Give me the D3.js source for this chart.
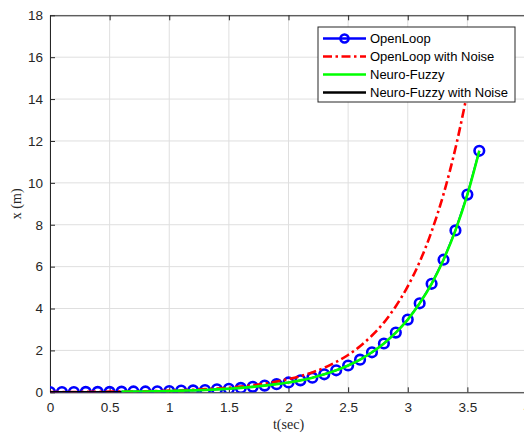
<!DOCTYPE html>
<html>
<head>
<meta charset="utf-8">
<script src="https://cdn.jsdelivr.net/npm/d3@7"></script>
<style>
  body { margin: 0; background: #fff; }
  svg { display: block; }
</style>
</head>
<body>
<div id="chart"></div>
<script>
// time samples (sec)
var tValues = [0, 0.1, 0.2, 0.3, 0.4, 0.5, 0.6, 0.7, 0.8, 0.9, 1.0, 1.1, 1.2, 1.3, 1.4, 1.5, 1.6, 1.7, 1.8, 1.9,
               2.0, 2.1, 2.2, 2.3, 2.4, 2.5, 2.6, 2.7, 2.8, 2.9, 3.0, 3.1, 3.2, 3.3, 3.4, 3.5, 3.6];
// OpenLoop response (m)
var openLoop = [0.01, 0.01, 0.01, 0.02, 0.02, 0.02, 0.03, 0.04, 0.04, 0.05, 0.06, 0.08, 0.09, 0.11, 0.14, 0.17,
                0.21, 0.26, 0.32, 0.39, 0.47, 0.57, 0.70, 0.86, 1.05, 1.28, 1.56, 1.91, 2.33, 2.85, 3.47, 4.25,
                5.18, 6.33, 7.73, 9.44, 11.53];
// OpenLoop with noise (m)
var openLoopNoise = [0.01, 0.01, 0.01, 0.02, 0.02, 0.03, 0.03, 0.04, 0.05, 0.06, 0.08, 0.10, 0.12, 0.15, 0.18, 0.22,
                     0.27, 0.34, 0.41, 0.51, 0.63, 0.77, 0.95, 1.17, 1.45, 1.78, 2.20, 2.71, 3.33, 4.11, 5.06, 6.23,
                     7.68, 9.46, 11.65, 14.30, 17.10];
// Neuro-Fuzzy (starts at t = 0.6)
var nfStart = 6;
var neuroFuzzy = openLoop.slice(nfStart);
// Neuro-Fuzzy with noise, visible only before the controller takes over
var neuroFuzzyNoise = [0.0, 0.0, 0.0, 0.0, 0.0, 0.0, 0.0];

var xTicks = [0, 0.5, 1, 1.5, 2, 2.5, 3, 3.5, 4];
var yTicks = [0, 2, 4, 6, 8, 10, 12, 14, 16, 18];
var legendLabels = ["OpenLoop", "OpenLoop with Noise", "Neuro-Fuzzy", "Neuro-Fuzzy with Noise"];

(function () {
    var width = 524, height = 434;
    var pLeft = 50, pTop = 15.3, pRight = 527, pBottom = 392.3;

    var svg = d3.select("#chart").append("svg")
        .attr("width", width)
        .attr("height", height);

    var x = d3.scaleLinear().domain([0, 4]).range([pLeft, pRight]);
    var y = d3.scaleLinear().domain([0, 18]).range([pBottom, pTop]);

    svg.append("defs").append("clipPath").attr("id", "plotClip")
        .append("rect")
        .attr("x", pLeft).attr("y", pTop)
        .attr("width", pRight - pLeft).attr("height", pBottom - pTop);

    // grid
    var grid = svg.append("g");
    grid.selectAll("line.gx").data(xTicks).enter().append("line")
        .attr("x1", d => x(d)).attr("x2", d => x(d))
        .attr("y1", pTop).attr("y2", pBottom)
        .attr("stroke", "#dfdfdf").attr("stroke-width", 1);
    grid.selectAll("line.gy").data(yTicks).enter().append("line")
        .attr("x1", pLeft).attr("x2", pRight)
        .attr("y1", d => y(d)).attr("y2", d => y(d))
        .attr("stroke", "#dfdfdf").attr("stroke-width", 1);

    // axes (MATLAB style box, ticks inward)
    var axisColor = "#262626";
    var xAxis = svg.append("g").attr("transform", `translate(0,${pBottom})`)
        .call(d3.axisBottom(x).tickValues(xTicks).tickSizeInner(-5).tickSizeOuter(0).tickPadding(10)
            .tickFormat(d3.format("")));
    var xAxisTop = svg.append("g").attr("transform", `translate(0,${pTop})`)
        .call(d3.axisTop(x).tickValues(xTicks).tickSizeInner(-5).tickSizeOuter(0).tickFormat(""));
    var yAxis = svg.append("g").attr("transform", `translate(${pLeft},0)`)
        .call(d3.axisLeft(y).tickValues(yTicks).tickSizeInner(-5).tickSizeOuter(0).tickPadding(7));

    [xAxis, xAxisTop, yAxis].forEach(function (g) {
        g.select(".domain").attr("stroke", axisColor).attr("stroke-width", 1);
        g.selectAll(".tick line").attr("stroke", axisColor);
        g.selectAll("text")
            .attr("fill", axisColor)
            .style("font-family", "Liberation Sans, Arial, sans-serif")
            .style("font-size", "13.5px");
    });

    // series
    var plot = svg.append("g").attr("clip-path", "url(#plotClip)");
    var line = d3.line().x(d => x(d[0])).y(d => y(d[1]));
    var smooth = d3.line().curve(d3.curveMonotoneX).x(d => x(d[0])).y(d => y(d[1]));

    var olPts = tValues.map((t, i) => [t, openLoop[i]]);
    var olnPts = tValues.map((t, i) => [t, openLoopNoise[i]]);
    var nfPts = neuroFuzzy.map((v, i) => [tValues[i + nfStart], v]);
    var nfnPts = neuroFuzzyNoise.map((v, i) => [tValues[i], v]);

    plot.append("path").attr("d", line(olPts))
        .attr("fill", "none").attr("stroke", "#0000ff").attr("stroke-width", 2);
    plot.selectAll("circle.ol").data(olPts).enter().append("circle")
        .attr("cx", d => x(d[0])).attr("cy", d => y(d[1])).attr("r", 4.8)
        .attr("fill", "none").attr("stroke", "#0000ff").attr("stroke-width", 2.6);

    plot.append("path").attr("d", smooth(olnPts))
        .attr("fill", "none").attr("stroke", "#ff0000").attr("stroke-width", 2.6)
        .attr("stroke-dasharray", "9,3.5,2.5,3.5");

    plot.append("path").attr("d", line(nfnPts))
        .attr("fill", "none").attr("stroke", "#000000").attr("stroke-width", 2.6);

    plot.append("path").attr("d", smooth(nfPts))
        .attr("fill", "none").attr("stroke", "#00ff00").attr("stroke-width", 2.6);

    // axis labels
    svg.append("text")
        .attr("x", x(2)).attr("y", 429)
        .attr("text-anchor", "middle")
        .style("font-family", "Liberation Serif, Times New Roman, serif")
        .style("font-size", "14px")
        .attr("fill", axisColor)
        .text("t(sec)");
    svg.append("text")
        .attr("transform", `translate(21,${(pTop + pBottom) / 2}) rotate(-90)`)
        .attr("text-anchor", "middle")
        .style("font-family", "Liberation Serif, Times New Roman, serif")
        .style("font-size", "14px")
        .attr("fill", axisColor)
        .text("x (m)");

    // legend
    var lg = svg.append("g").attr("transform", "translate(318,27)");
    lg.append("rect").attr("x", 0).attr("y", 0).attr("width", 197).attr("height", 75)
        .attr("fill", "#fff").attr("stroke", "#262626").attr("stroke-width", 1);
    var legendStyles = [
        { color: "#0000ff", dash: null, marker: true },
        { color: "#ff0000", dash: "9,3.5,2.5,3.5", marker: false },
        { color: "#00ff00", dash: null, marker: false },
        { color: "#000000", dash: null, marker: false }
    ];
    legendLabels.forEach(function (label, i) {
        var cy = 11.5 + i * 18;
        var st = legendStyles[i];
        lg.append("line").attr("x1", 5).attr("x2", 48).attr("y1", cy).attr("y2", cy)
            .attr("stroke", st.color).attr("stroke-width", 2.6)
            .attr("stroke-dasharray", st.dash);
        if (st.marker) {
            lg.append("circle").attr("cx", 26.5).attr("cy", cy).attr("r", 4)
                .attr("fill", "none").attr("stroke", st.color).attr("stroke-width", 2.6);
        }
        lg.append("text").attr("x", 52).attr("y", cy + 4.8)
            .style("font-family", "Liberation Sans, Arial, sans-serif")
            .style("font-size", "13px")
            .attr("fill", "#000")
            .text(label);
    });
})();
</script>
</body>
</html>
